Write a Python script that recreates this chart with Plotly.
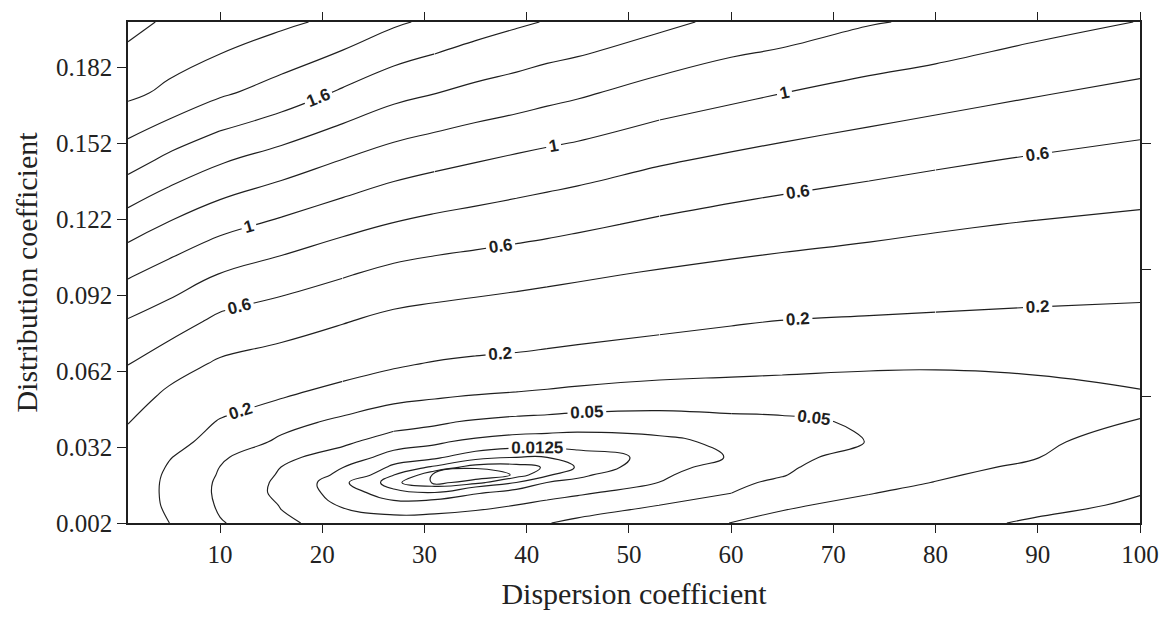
import plotly.graph_objects as go

# ---- data ----
dispersion = [1, 5, 10, 16, 22, 27, 31, 35, 39, 42, 45, 53, 60, 65, 73.5, 80, 90, 100]
distribution = [0.002, 0.009, 0.014, 0.018, 0.021, 0.024, 0.028, 0.034, 0.042,
                0.052, 0.065, 0.082, 0.1, 0.12, 0.145, 0.172, 0.2]

# objective value estimated at each grid node, one list per dispersion value
# (bottom -> top along the distribution axis)
z_by_column = [
    [0.30, 0.28, 0.28, 0.285, 0.29, 0.30, 0.32, 0.36, 0.405, 0.49, 0.605, 0.79, 1.02, 1.30, 1.68, 2.045, 2.26],
    [0.201, 0.18, 0.175, 0.175, 0.18, 0.19, 0.207, 0.246, 0.295, 0.359, 0.486, 0.70, 0.914, 1.184, 1.547, 1.96, 2.17],
    [0.105, 0.09, 0.085, 0.087, 0.093, 0.099, 0.108, 0.15, 0.19, 0.268, 0.374, 0.557, 0.79, 1.06, 1.417, 1.83, 2.14],
    [0.056, 0.048, 0.040, 0.041, 0.045, 0.0495, 0.057, 0.086, 0.125, 0.207, 0.317, 0.486, 0.70, 0.96, 1.306, 1.715, 2.04],
    [0.037, 0.0227, 0.0167, 0.0138, 0.020, 0.0252, 0.036, 0.056, 0.085, 0.15, 0.259, 0.413, 0.614, 0.86, 1.19, 1.572, 1.95],
    [0.033, 0.0156, 0.0077, 0.0036, 0.0063, 0.0104, 0.0175, 0.034, 0.064, 0.115, 0.216, 0.353, 0.542, 0.79, 1.10, 1.46, 1.83],
    [0.033, 0.0175, 0.0063, 0.0012, 0.0010, 0.0051, 0.014, 0.0276, 0.0556, 0.105, 0.192, 0.33, 0.509, 0.748, 1.05, 1.405, 1.76],
    [0.035, 0.0208, 0.0115, 0.0021, 0.0008, 0.0017, 0.0076, 0.020, 0.0456, 0.096, 0.176, 0.311, 0.485, 0.716, 1.007, 1.348, 1.69],
    [0.044, 0.0252, 0.0154, 0.0063, 0.0017, 0.0018, 0.0063, 0.0167, 0.039, 0.089, 0.167, 0.295, 0.46, 0.686, 0.962, 1.305, 1.63],
    [0.049, 0.0294, 0.0188, 0.0126, 0.0053, 0.0035, 0.0063, 0.0162, 0.0368, 0.084, 0.157, 0.281, 0.442, 0.662, 0.932, 1.265, 1.59],
    [0.056, 0.0355, 0.0217, 0.015, 0.0105, 0.0066, 0.009, 0.0164, 0.034, 0.078, 0.148, 0.266, 0.424, 0.635, 0.906, 1.229, 1.564],
    [0.065, 0.0502, 0.0354, 0.0252, 0.0215, 0.018, 0.0145, 0.0205, 0.035, 0.069, 0.131, 0.234, 0.378, 0.567, 0.82, 1.119, 1.45],
    [0.101, 0.070, 0.049, 0.0435, 0.039, 0.033, 0.0262, 0.029, 0.042, 0.067, 0.123, 0.211, 0.346, 0.518, 0.761, 1.049, 1.35],
    [0.118, 0.092, 0.072, 0.056, 0.048, 0.044, 0.039, 0.033, 0.044, 0.068, 0.117, 0.199, 0.328, 0.49, 0.723, 1.002, 1.313],
    [0.147, 0.117, 0.097, 0.088, 0.081, 0.074, 0.065, 0.051, 0.054, 0.076, 0.107, 0.187, 0.305, 0.451, 0.668, 0.931, 1.215],
    [0.17, 0.14, 0.118, 0.101, 0.095, 0.09, 0.083, 0.072, 0.06, 0.079, 0.105, 0.18, 0.2875, 0.422, 0.629, 0.882, 1.17],
    [0.213, 0.175, 0.145, 0.125, 0.114, 0.107, 0.099, 0.089, 0.075, 0.082, 0.11, 0.172, 0.265, 0.387, 0.576, 0.813, 1.07],
    [0.24, 0.213, 0.196, 0.183, 0.173, 0.163, 0.15, 0.129, 0.101, 0.093, 0.124, 0.171, 0.244, 0.36, 0.531, 0.751, 0.995],
]

contour_levels = [0.0015625, 0.003125, 0.00625, 0.0125, 0.025, 0.05, 0.1, 0.2,
                  0.4, 0.6, 0.8, 1.0, 1.2, 1.4, 1.6, 1.8, 2.0, 2.2]

# labelled contour levels, split into stretches of the grid (dispersion index
# from-to, distribution index from-to, labelled?) so each stretch gets a label
label_stretches = {
    0.0125: [(0, 17, 0, 16, True)],
    0.05: [(0, 5, 0, 16, False), (5, 12, 6, 16, True), (5, 12, 0, 6, False),
           (12, 17, 0, 16, True)],
    0.2: [(0, 4, 0, 16, True), (4, 11, 0, 16, True), (11, 15, 0, 16, True),
          (15, 17, 8, 16, True), (15, 17, 0, 8, False)],
    0.6: [(0, 4, 0, 16, True), (4, 11, 0, 16, True), (11, 15, 0, 16, True),
          (15, 17, 0, 16, True)],
    1.0: [(0, 6, 0, 16, True), (6, 11, 0, 16, True), (11, 17, 0, 16, True)],
    1.6: [(0, 2, 0, 16, False), (2, 6, 0, 16, True), (6, 17, 0, 16, False)],
}

x_ticks = [10, 20, 30, 40, 50, 60, 70, 80, 90, 100]
y_ticks = [0.002, 0.032, 0.062, 0.092, 0.122, 0.152, 0.182]
y_tick_text = ["0.002", "0.032", "0.062", "0.092", "0.122", "0.152", "0.182"]
right_ticks = [0.052, 0.102, 0.152]

# rows = distribution values, columns = dispersion values
z_grid = [list(row) for row in zip(*z_by_column)]

INK = "#1f1f1f"
SERIF = "Liberation Serif, Times New Roman, serif"


def contour_piece(level, xi0, xi1, yi0, yi1, labelled, smooth):
    xs = dispersion[xi0:xi1 + 1]
    ys = distribution[yi0:yi1 + 1]
    zz = [row[xi0:xi1 + 1] for row in z_grid[yi0:yi1 + 1]]
    return go.Contour(
        x=xs, y=ys, z=zz,
        autocontour=False,
        contours=dict(start=level, end=level, size=1, coloring="none",
                      showlabels=labelled, labelformat=".4~g",
                      labelfont=dict(family="Liberation Sans, Arial, sans-serif",
                                     size=17, color=INK, weight="bold")),
        line=dict(color=INK, width=1.15, smoothing=smooth),
        showscale=False, hoverinfo="skip",
    )


fig = go.Figure()
nx, ny = len(dispersion) - 1, len(distribution) - 1
for lev in contour_levels:
    pieces = label_stretches.get(lev, [(0, nx, 0, ny, False)])
    smooth = 1.3 if len(pieces) == 1 else 1.0
    for (xi0, xi1, yi0, yi1, lab) in pieces:
        fig.add_trace(contour_piece(lev, xi0, xi1, yi0, yi1, lab, smooth))

# invisible trace so the right-hand tick axis is drawn
fig.add_trace(go.Scatter(x=[None], y=[None], yaxis="y2", showlegend=False,
                         hoverinfo="skip", mode="markers"))

fig.update_layout(
    width=1176, height=617,
    margin=dict(l=128, r=36, t=17, b=91),
    paper_bgcolor="white", plot_bgcolor="white",
    showlegend=False,
    xaxis=dict(range=[1, 100], tickvals=x_ticks, ticks="outside", ticklen=8,
               tickwidth=1.3, tickcolor=INK, showline=True, linewidth=1.5,
               linecolor=INK, mirror="ticks", showgrid=False, zeroline=False,
               tickfont=dict(family=SERIF, size=25, color="#222"),
               title=dict(text="Dispersion coefficient", standoff=16,
                          font=dict(family=SERIF, size=30, color="#222"))),
    yaxis=dict(range=[0.002, 0.2], tickvals=y_ticks, ticktext=y_tick_text,
               ticks="outside", ticklen=9, tickwidth=1.3, tickcolor=INK,
               showline=True, linewidth=1.5, linecolor=INK, mirror=True,
               showgrid=False, zeroline=False,
               tickfont=dict(family=SERIF, size=25, color="#222"),
               title=dict(text="Distribution coefficient", standoff=10,
                          font=dict(family=SERIF, size=30, color="#222"))),
    yaxis2=dict(range=[0.002, 0.2], overlaying="y", side="right",
                tickvals=right_ticks, ticks="outside", ticklen=10,
                tickwidth=1.3, tickcolor=INK, showticklabels=False,
                showline=False, showgrid=False, zeroline=False),
)

fig.write_html("out.html")
